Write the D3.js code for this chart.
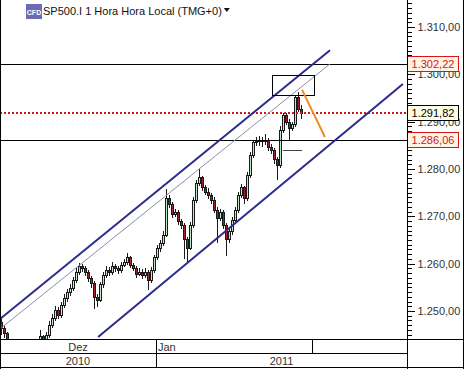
<!DOCTYPE html>
<html>
<head>
<meta charset="utf-8">
<script src="https://cdn.jsdelivr.net/npm/d3@7"></script>
<style>
  body { margin: 0; background: #ffffff; }
  svg { display: block; }
</style>
</head>
<body>
<div id="chart"></div>
<script>
// Colours
var navy = "#2b2b8c";
var thinLine = "#8c8cae";
var candleUp = "#bfe8c4";
var candleDown = "#a3202e";
var candleEdge = "#1a1a1a";
var levelRed = "#d01818";
var orange = "#f08a24";
var grey = "#333333";
var fontFamily = "'Liberation Sans', Arial, sans-serif";

// Candles (1 hour, SP500.I)
const opens = [1247.5,1246.4,1245.2,1243.0,1241.5,1240.2,1239.0,1238.5,1237.8,1238.9,
  1239.6,1240.8,1241.5,1242.4,1244.6,1243.2,1244.8,1247.0,1248.5,1250.2,
  1249.1,1251.2,1252.7,1253.8,1254.8,1256.5,1258.2,1259.5,1259.0,1258.2,
  1256.9,1255.9,1252.9,1252.3,1255.5,1257.6,1258.6,1258.2,1259.5,1259.0,
  1258.6,1259.7,1260.3,1261.2,1259.7,1259.0,1257.8,1258.2,1257.4,1258.2,
  1256.5,1258.6,1261.2,1263.3,1264.3,1266.0,1273.8,1272.4,1270.3,1270.9,
  1268.8,1268.1,1265.0,1263.3,1268.1,1273.4,1277.0,1278.1,1276.0,1275.1,
  1274.3,1273.4,1271.3,1269.6,1270.9,1268.1,1265.0,1266.7,1269.2,1271.3,
  1274.5,1276.0,1273.8,1278.7,1282.9,1285.5,1285.9,1286.1,1285.7,1286.1,
  1284.6,1284.0,1281.9,1280.8,1288.2,1291.4,1289.9,1288.6,1289.3,1295.0,
  1292.6];
const highs = [1248.6,1247.0,1245.6,1243.6,1242.0,1240.8,1239.7,1239.1,1239.5,1240.1,
  1241.3,1242.0,1243.0,1246.0,1245.0,1245.6,1247.8,1249.3,1251.0,1250.8,
  1252.0,1253.5,1254.6,1255.6,1257.2,1259.0,1260.2,1260.0,1259.4,1258.7,
  1257.3,1256.3,1253.6,1256.2,1258.3,1259.4,1259.2,1260.3,1260.0,1259.6,
  1260.4,1261.0,1262.3,1261.6,1260.2,1259.5,1259.0,1258.8,1259.0,1258.7,
  1259.3,1261.9,1264.0,1265.0,1266.8,1275.8,1274.5,1273.0,1271.6,1271.3,
  1269.5,1268.6,1265.6,1268.8,1274.1,1277.7,1280.0,1278.6,1276.7,1275.9,
  1275.0,1274.0,1272.0,1271.6,1271.4,1268.6,1267.4,1269.9,1272.0,1275.2,
  1276.8,1276.5,1279.4,1283.6,1286.2,1286.8,1287.0,1286.8,1287.4,1286.6,
  1285.3,1284.5,1282.6,1289.0,1291.9,1291.8,1290.5,1290.0,1295.5,1296.3,
  1293.6];
const lows = [1245.0,1244.3,1242.5,1240.9,1239.6,1238.4,1237.9,1237.0,1237.4,1238.3,
  1239.1,1240.2,1241.0,1242.0,1242.6,1242.8,1244.2,1246.4,1247.9,1248.3,
  1248.6,1250.6,1252.0,1253.1,1254.2,1255.9,1257.6,1258.3,1257.4,1256.2,
  1254.9,1250.5,1250.9,1251.8,1254.9,1257.0,1257.4,1257.7,1258.3,1257.9,
  1258.1,1259.2,1259.8,1259.1,1258.4,1257.0,1257.3,1256.7,1256.9,1254.4,
  1256.0,1258.1,1260.7,1262.5,1263.8,1265.6,1271.7,1269.6,1269.8,1268.1,
  1267.4,1261.0,1260.3,1262.8,1267.5,1272.8,1276.3,1275.3,1274.4,1273.6,
  1272.7,1270.6,1264.3,1269.0,1267.4,1261.6,1264.4,1266.1,1268.6,1270.8,
  1273.9,1272.7,1273.2,1278.1,1282.3,1284.8,1284.9,1284.6,1285.1,1283.9,
  1283.2,1281.0,1277.7,1280.2,1287.6,1289.2,1286.1,1288.0,1288.8,1292.0,
  1290.6];
const closes = [1246.4,1245.2,1243.0,1241.5,1240.2,1239.0,1238.5,1237.8,1238.9,1239.6,
  1240.8,1241.5,1242.4,1244.6,1243.2,1244.8,1247.0,1248.5,1250.2,1249.1,
  1251.2,1252.7,1253.8,1254.8,1256.5,1258.2,1259.5,1259.0,1258.2,1256.9,
  1255.9,1252.9,1252.3,1255.5,1257.6,1258.6,1258.2,1259.5,1259.0,1258.6,
  1259.7,1260.3,1261.2,1259.7,1259.0,1257.8,1258.2,1257.4,1258.2,1256.5,
  1258.6,1261.2,1263.3,1264.3,1266.0,1273.8,1272.4,1270.3,1270.9,1268.8,
  1268.1,1265.0,1263.3,1268.1,1273.4,1277.0,1278.1,1276.0,1275.1,1274.3,
  1273.4,1271.3,1269.6,1270.9,1268.1,1265.0,1266.7,1269.2,1271.3,1274.5,
  1276.0,1273.8,1278.7,1282.9,1285.5,1285.9,1286.1,1285.7,1286.1,1284.6,
  1284.0,1281.9,1280.8,1288.2,1291.4,1289.9,1288.6,1289.3,1295.0,1292.6,
  1291.82];

// Price axis
const priceTicks = [1250, 1260, 1270, 1280, 1290, 1300, 1310];

// Date axis (start of each cell, as candle index)
const monthLabels = ["Dez", "Jan", ""];
const monthStarts = [-0.5, 51.5, 103.5];
const yearLabels = ["2010", "2011"];
const yearStarts = [-0.5, 51.5];

// Horizontal levels: resistance, last price, support
const levelPrices = [1302.22, 1291.82, 1286.06];

// Drawn objects, as [candle index, price]
const channelUpper = [[-0.5, 1248.3], [109.5, 1305.1]];
const channelMiddle = [[-0.5, 1246.2], [109.5, 1302.2]];
const channelLower = [[32.2, 1244.5], [133.8, 1297.95]];
const arrowLine = [[100.2, 1296.7], [107.8, 1286.75]];
const boxCorners = [[90.2, 1299.9], [104.2, 1295.6]];
const shortLine = [[93.8, 1283.8], [100.2, 1283.8]];

// Layout
const W = 464, H = 369;
const plotW = 407, plotH = 339;
const monthRowH = 14;

const svg = d3.select("#chart")
  .append("svg")
  .attr("width", W)
  .attr("height", H)
  .style("font-family", fontFamily);

const x = d3.scaleLinear()
  .domain([-0.5, -0.5 + plotW / 3])
  .range([0, plotW]);

const y = d3.scaleLinear()
  .domain([1244.08, 1315.70])
  .range([plotH, 0]);

svg.append("clipPath")
  .attr("id", "plotClip")
  .append("rect")
  .attr("x", 0).attr("y", 0)
  .attr("width", plotW).attr("height", plotH);

const plot = svg.append("g").attr("clip-path", "url(#plotClip)");

// candles
const candles = closes.map(function (c, i) {
  return { i: i, o: opens[i], h: highs[i], l: lows[i], c: c };
});

const cg = plot.append("g").attr("shape-rendering", "crispEdges");
cg.selectAll("line.wick")
  .data(candles)
  .enter().append("line")
  .attr("class", "wick")
  .attr("x1", d => Math.floor(x(d.i)) + 0.5)
  .attr("x2", d => Math.floor(x(d.i)) + 0.5)
  .attr("y1", d => y(d.h))
  .attr("y2", d => y(d.l))
  .attr("stroke", candleEdge);

cg.selectAll("rect.body")
  .data(candles)
  .enter().append("rect")
  .attr("class", "body")
  .attr("x", d => Math.floor(x(d.i)) - 0.5)
  .attr("y", d => y(Math.max(d.o, d.c)))
  .attr("width", 2)
  .attr("height", d => Math.max(1, Math.abs(y(d.o) - y(d.c))))
  .attr("fill", d => d.c >= d.o ? candleUp : candleDown)
  .attr("stroke", candleEdge)
  .attr("stroke-width", 1);

// horizontal levels
plot.append("line")
  .attr("x1", 0).attr("x2", plotW)
  .attr("y1", Math.round(y(levelPrices[0])) + 0.5)
  .attr("y2", Math.round(y(levelPrices[0])) + 0.5)
  .attr("stroke", "#000").attr("stroke-width", 1);
plot.append("line")
  .attr("x1", 0).attr("x2", plotW)
  .attr("y1", Math.round(y(levelPrices[2])) + 0.5)
  .attr("y2", Math.round(y(levelPrices[2])) + 0.5)
  .attr("stroke", "#000").attr("stroke-width", 1);
plot.append("line")
  .attr("x1", 0).attr("x2", plotW)
  .attr("y1", Math.round(y(levelPrices[1])))
  .attr("y2", Math.round(y(levelPrices[1])))
  .attr("stroke", levelRed).attr("stroke-width", 2)
  .attr("stroke-dasharray", "2,2");

// channel lines
const seg = d3.line().x(d => x(d[0])).y(d => y(d[1]));
plot.append("path").attr("d", seg(channelMiddle))
  .attr("fill", "none").attr("stroke", thinLine).attr("stroke-width", 1);
plot.append("path").attr("d", seg(channelUpper))
  .attr("fill", "none").attr("stroke", navy).attr("stroke-width", 2);
plot.append("path").attr("d", seg(channelLower))
  .attr("fill", "none").attr("stroke", navy).attr("stroke-width", 2);

// box, arrow line, short line
plot.append("rect")
  .attr("x", Math.round(x(boxCorners[0][0])) + 0.5)
  .attr("y", Math.round(y(boxCorners[0][1])) + 0.5)
  .attr("width", Math.round(x(boxCorners[1][0]) - x(boxCorners[0][0])))
  .attr("height", Math.round(y(boxCorners[1][1]) - y(boxCorners[0][1])))
  .attr("fill", "none").attr("stroke", "#000").attr("stroke-width", 1);
plot.append("path").attr("d", seg(arrowLine))
  .attr("fill", "none").attr("stroke", orange).attr("stroke-width", 2);
plot.append("path").attr("d", seg(shortLine))
  .attr("fill", "none").attr("stroke", "#444").attr("stroke-width", 1)
  .attr("shape-rendering", "crispEdges");

// title + logo
const logo = svg.append("g");
logo.append("rect")
  .attr("x", 26).attr("y", 4).attr("width", 16).attr("height", 15)
  .attr("fill", "#6c6cb4");
logo.append("text")
  .attr("x", 34).attr("y", 14.5)
  .attr("text-anchor", "middle")
  .attr("font-size", 7).attr("font-weight", "bold")
  .attr("fill", "#ffffff")
  .text("CFD");

const title = svg.append("text")
  .attr("x", 43).attr("y", 15)
  .attr("font-size", 11)
  .attr("fill", "#111")
  .text("SP500.I 1 Hora Hora Local (TMG+0)");
const tw = title.node().getComputedTextLength();
svg.append("path")
  .attr("d", `M${43 + tw + 2},8 h6 l-3,4 z`)
  .attr("fill", "#111");

// price axis (right panel)
const fmt = d3.formatLocale({ decimal: ",", thousands: ".", grouping: [3], currency: ["", ""] })
  .format(",.2f");

const minor = svg.append("g")
  .attr("transform", `translate(${plotW + 0.5},0)`)
  .call(d3.axisRight(y).tickValues(d3.range(1245, 1316, 1)).tickSize(4).tickFormat(""));
minor.select(".domain").remove();
minor.selectAll("line").attr("stroke", "#000").attr("shape-rendering", "crispEdges");

const yAxis = svg.append("g")
  .attr("transform", `translate(${plotW + 0.5},0)`)
  .call(d3.axisRight(y).tickValues(priceTicks).tickSize(7).tickPadding(3).tickFormat(fmt));
yAxis.select(".domain").remove();
yAxis.selectAll("line").attr("stroke", "#000").attr("shape-rendering", "crispEdges");
yAxis.selectAll("text")
  .attr("font-family", fontFamily)
  .attr("font-size", 11)
  .attr("fill", grey);

// price boxes (they cover part of the 1.300 and 1.290 tick labels, as in the original)
const boxStyle = [
  { fill: "#fff3e6", stroke: levelRed, text: levelRed },
  { fill: "#ffffe6", stroke: "#000", text: "#000" },
  { fill: "#fff3e6", stroke: levelRed, text: levelRed }
];
levelPrices.forEach(function (p, k) {
  const cy = Math.round(y(p));
  svg.append("rect")
    .attr("x", plotW + 0.5).attr("y", cy - 7.5)
    .attr("width", 51).attr("height", 15)
    .attr("fill", boxStyle[k].fill)
    .attr("stroke", boxStyle[k].stroke)
    .attr("shape-rendering", "crispEdges");
  svg.append("text")
    .attr("x", plotW + 26).attr("y", cy + 4)
    .attr("text-anchor", "middle")
    .attr("font-size", 11)
    .attr("fill", boxStyle[k].text)
    .text(fmt(p));
});

// frame
const frame = svg.append("g")
  .attr("stroke", "#000").attr("stroke-width", 1)
  .attr("shape-rendering", "crispEdges");
frame.append("line").attr("x1", 0.5).attr("x2", 0.5).attr("y1", 0).attr("y2", H);
frame.append("line").attr("x1", plotW + 0.5).attr("x2", plotW + 0.5).attr("y1", 0).attr("y2", H);
frame.append("line").attr("x1", W - 0.5).attr("x2", W - 0.5).attr("y1", 0).attr("y2", H);
frame.append("line").attr("x1", 0).attr("x2", W).attr("y1", plotH + 0.5).attr("y2", plotH + 0.5);
frame.append("line").attr("x1", 0).attr("x2", plotW).attr("y1", plotH + monthRowH + 0.5).attr("y2", plotH + monthRowH + 0.5);
frame.append("line").attr("x1", 0).attr("x2", W).attr("y1", H - 1.5).attr("y2", H - 1.5);

// month row
const monthEnds = monthStarts.slice(1).concat([x.domain()[1]]);
monthStarts.forEach(function (s, k) {
  const x0 = Math.max(0, Math.round(x(s)));
  const x1 = Math.round(x(monthEnds[k]));
  if (k > 0) {
    frame.append("line").attr("x1", x0 + 0.5).attr("x2", x0 + 0.5)
      .attr("y1", plotH).attr("y2", plotH + monthRowH);
  }
  svg.append("text")
    .attr("x", k === 0 ? (x0 + x1) / 2 : x0 + 2)
    .attr("y", plotH + 11.5)
    .attr("text-anchor", k === 0 ? "middle" : "start")
    .attr("font-size", 11)
    .attr("fill", grey)
    .text(monthLabels[k]);
});

// year row
const yearEnds = yearStarts.slice(1).concat([x.domain()[1]]);
yearStarts.forEach(function (s, k) {
  const x0 = Math.max(0, Math.round(x(s)));
  const x1 = Math.round(x(yearEnds[k]));
  if (k > 0) {
    frame.append("line").attr("x1", x0 + 0.5).attr("x2", x0 + 0.5)
      .attr("y1", plotH + monthRowH).attr("y2", H - 1);
  }
  svg.append("text")
    .attr("x", (x0 + x1) / 2)
    .attr("y", plotH + monthRowH + 11.5)
    .attr("text-anchor", "middle")
    .attr("font-size", 11)
    .attr("fill", grey)
    .text(yearLabels[k]);
});
</script>
</body>
</html>
